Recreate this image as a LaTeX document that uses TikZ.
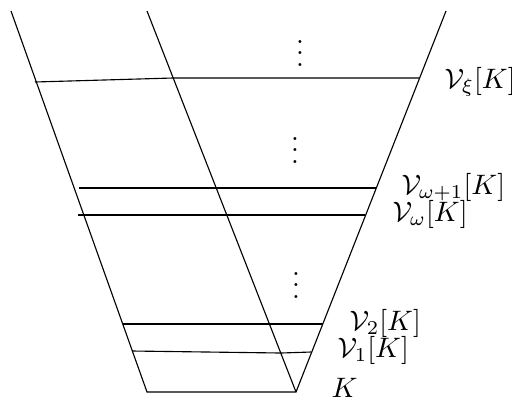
\documentclass[tikz,border=0pt]{standalone}
\usepackage{tikz}
\usetikzlibrary{positioning}

\begin{document}
\begin{tikzpicture}[
    x=0.125mm, y=-0.125mm,
    lvl/.style={anchor=west, inner sep=0pt, font=\fontsize{9.6}{11}\selectfont},
    gap/.style={inner sep=0pt}
]
    \useasboundingbox (0,0) rectangle (512,400);

    \coordinate (lt) at (11,11);
    \coordinate (mt) at (147,11);
    \coordinate (rt) at (446,11);
    \coordinate (lb) at (147,392);
    \coordinate (apex) at (296,392);

    \coordinate (xiL) at (35,82);
    \coordinate (xiM) at (173,78);
    \coordinate (xiR) at (419,78);
    \coordinate (wsL) at (79,188);
    \coordinate (wsR) at (376,188);
    \coordinate (wL) at (78,215);
    \coordinate (wR) at (365,215);
    \coordinate (twoL) at (123,324);
    \coordinate (twoR) at (323,324);
    \coordinate (oneL) at (132,351);
    \coordinate (oneM) at (281,353);
    \coordinate (oneR) at (311,352);

    \node[lvl] (vxi) at (444,82) {$\mathcal{V}_\xi[K]$};
    \node[lvl] (vws) at (401,187) {$\mathcal{V}_{\omega+1}[K]$};
    \node[lvl] (vw) at (392,214) {$\mathcal{V}_\omega[K]$};
    \node[lvl] (vtwo) at (349,323) {$\mathcal{V}_2[K]$};
    \node[lvl] (vone) at (337,350) {$\mathcal{V}_1[K]$};
    \node[lvl] (k) at (331,388) {$K$};

    \node[gap] (d1) at (300,45) {$\vdots$};
    \node[gap] (d2) at (295,142) {$\vdots$};
    \node[gap] (d3) at (296,277) {$\vdots$};

    \draw (lt) -- (lb) -- (apex) -- (rt);
    \draw (mt) -- (apex);
    \draw (xiL) -- (xiM) -- (xiR);
    \draw (wsL) -- (wsR);
    \draw (wL) -- (wR);
    \draw (twoL) -- (twoR);
    \draw (oneL) -- (oneM) -- (oneR);
\end{tikzpicture}
\end{document}
